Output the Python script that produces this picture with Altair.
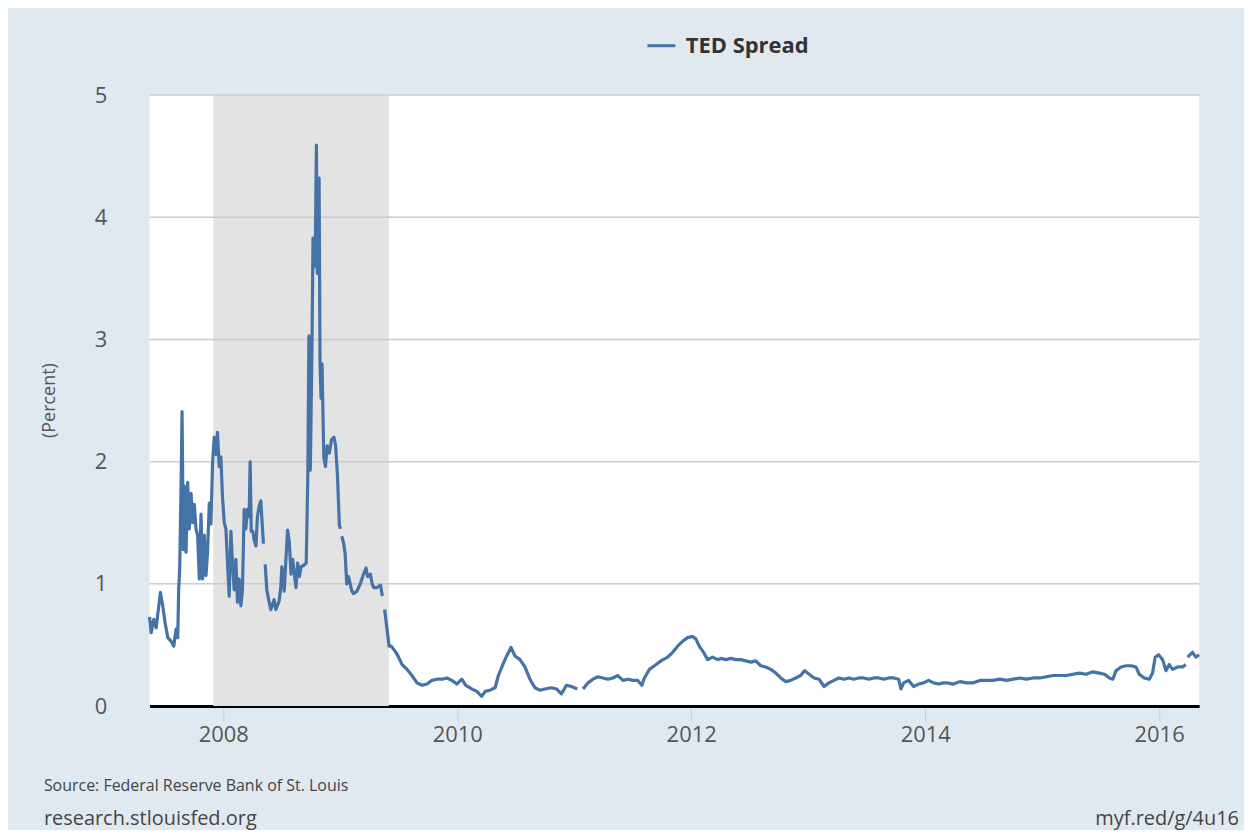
import altair as alt
import pandas as pd
import numpy as np

# ---- data (decimal year, percent); None = gap in series ----
years = [
    2007.370, 2007.384, 2007.406, 2007.427, 2007.440, 2007.463, 2007.483, 2007.503, 2007.526, 2007.555,
    2007.577, 2007.597, 2007.611, 2007.619, 2007.628, 2007.640, 2007.648, 2007.659, 2007.668, 2007.682,
    2007.696, 2007.710, 2007.725, 2007.739, 2007.753, 2007.767, 2007.781, 2007.796, 2007.810, 2007.824,
    2007.838, 2007.853, 2007.866, 2007.881, 2007.895, 2007.909, 2007.923, 2007.938, 2007.951, 2007.966,
    2007.980, 2007.994, 2008.009, 2008.023, 2008.037, 2008.051, 2008.066, 2008.079, 2008.094, 2008.108,
    2008.122, 2008.136, 2008.151, 2008.164, 2008.179, 2008.193, 2008.207, 2008.221, 2008.230, 2008.239,
    2008.253, 2008.264, 2008.279, 2008.292, 2008.307, 2008.321, 2008.335, 2008.343, None,
    2008.358, 2008.372, 2008.392, 2008.406, 2008.434, 2008.449, 2008.477, 2008.491, 2008.500, 2008.512,
    2008.520, 2008.535, 2008.549, 2008.564, 2008.578, 2008.593, 2008.607, 2008.621, 2008.635, 2008.650,
    2008.664, 2008.685, 2008.708, 2008.722, 2008.731, 2008.743, 2008.757, 2008.766, 2008.774, 2008.786,
    2008.795, 2008.803, 2008.818, 2008.826, 2008.835, 2008.843, 2008.858, 2008.872, 2008.887, 2008.905,
    2008.924, 2008.945, 2008.959, 2008.974, 2008.991, 2009.000, None,
    2009.011, 2009.026, 2009.040, 2009.054, 2009.069, 2009.083, 2009.098, 2009.112, 2009.141, 2009.170,
    2009.198, 2009.219, 2009.233, 2009.256, 2009.271, 2009.285, 2009.314, 2009.343, 2009.358, None,
    2009.378, 2009.401, 2009.416, 2009.435, 2009.459, 2009.487, 2009.527, 2009.570, 2009.612, 2009.655,
    2009.698, 2009.740, 2009.783, 2009.825, 2009.868, 2009.911, 2009.953, 2009.996, 2010.038, 2010.072,
    2010.123, 2010.166, 2010.209, 2010.238, 2010.280, 2010.323, 2010.351, 2010.385, 2010.422, 2010.459,
    2010.493, 2010.536, 2010.578, 2010.621, 2010.664, 2010.706, 2010.749, 2010.805, 2010.848, 2010.890,
    2010.933, 2010.975, 2011.026, None,
    2011.075, 2011.118, 2011.160, 2011.203, 2011.245, 2011.288, 2011.330, 2011.373, 2011.416, 2011.458,
    2011.501, 2011.543, 2011.578, 2011.600, 2011.643, 2011.686, 2011.742, 2011.799, 2011.842, 2011.884,
    2011.927, 2011.969, 2012.012, 2012.040, 2012.069, 2012.106, 2012.140, 2012.182, 2012.225, 2012.253,
    2012.296, 2012.338, 2012.381, 2012.423, 2012.466, 2012.509, 2012.551, 2012.594, 2012.636, 2012.679,
    2012.722, 2012.764, 2012.807, 2012.849, 2012.892, 2012.934, 2012.968, 2013.006, 2013.049, 2013.091,
    2013.134, 2013.176, 2013.219, 2013.261, 2013.304, 2013.347, 2013.389, 2013.432, 2013.474, 2013.517,
    2013.560, 2013.602, 2013.645, 2013.687, 2013.730, 2013.772, 2013.792, 2013.815, 2013.858, 2013.900,
    2013.943, 2013.986, 2014.028, 2014.071, 2014.113, 2014.156, 2014.184, 2014.241, 2014.297, 2014.354,
    2014.411, 2014.468, 2014.525, 2014.582, 2014.638, 2014.695, 2014.752, 2014.808, 2014.865, 2014.922,
    2014.979, 2015.036, 2015.093, 2015.149, 2015.206, 2015.263, 2015.319, 2015.376, 2015.433, 2015.490,
    2015.533, 2015.575, 2015.604, 2015.632, 2015.675, 2015.717, 2015.760, 2015.802, 2015.830, 2015.873,
    2015.916, 2015.944, 2015.966, 2015.996, 2016.030, 2016.058, 2016.087, 2016.115, 2016.158, 2016.200,
    2016.228, None,
    2016.243, 2016.285, 2016.313, 2016.341,
]
ted_values = [
    0.73, 0.60, 0.71, 0.64, 0.75, 0.93, 0.82, 0.68, 0.56, 0.53,
    0.49, 0.63, 0.56, 0.95, 1.13, 1.83, 2.41, 1.28, 1.80, 1.26,
    1.83, 1.45, 1.74, 1.50, 1.65, 1.45, 1.40, 1.04, 1.57, 1.04,
    1.40, 1.07, 1.26, 1.66, 1.49, 1.99, 2.20, 2.06, 2.24, 1.96,
    2.04, 1.71, 1.50, 1.45, 1.17, 0.90, 1.43, 1.17, 0.95, 1.20,
    0.85, 1.04, 0.82, 0.95, 1.61, 1.45, 1.61, 1.55, 2.00, 1.43,
    1.43, 1.36, 1.31, 1.55, 1.64, 1.68, 1.45, 1.33, None,
    1.16, 0.95, 0.85, 0.79, 0.87, 0.79, 0.86, 0.97, 1.14, 1.06,
    0.94, 1.20, 1.44, 1.34, 1.08, 1.20, 1.08, 0.97, 1.17, 1.06,
    1.14, 1.15, 1.17, 1.90, 3.03, 1.93, 2.92, 3.83, 3.59, 3.79,
    4.59, 3.54, 4.32, 2.80, 2.52, 2.80, 2.04, 1.96, 2.13, 2.07,
    2.18, 2.20, 2.13, 1.90, 1.48, 1.45, None,
    1.39, 1.34, 1.25, 1.00, 1.06, 1.00, 0.94, 0.92, 0.94, 1.00,
    1.08, 1.13, 1.06, 1.08, 1.00, 0.97, 0.97, 0.99, 0.90, None,
    0.79, 0.61, 0.49, 0.49, 0.46, 0.42, 0.34, 0.30, 0.25, 0.19,
    0.17, 0.18, 0.21, 0.22, 0.22, 0.23, 0.21, 0.18, 0.22, 0.17,
    0.14, 0.12, 0.08, 0.12, 0.13, 0.15, 0.25, 0.33, 0.41, 0.48,
    0.41, 0.38, 0.32, 0.22, 0.15, 0.13, 0.14, 0.15, 0.14, 0.10,
    0.17, 0.16, 0.14, None,
    0.14, 0.19, 0.22, 0.24, 0.23, 0.22, 0.23, 0.25, 0.21, 0.22,
    0.21, 0.21, 0.17, 0.23, 0.30, 0.33, 0.37, 0.40, 0.44, 0.49,
    0.53, 0.56, 0.57, 0.55, 0.49, 0.44, 0.38, 0.40, 0.38, 0.39,
    0.38, 0.39, 0.38, 0.38, 0.37, 0.36, 0.37, 0.33, 0.32, 0.30,
    0.27, 0.23, 0.20, 0.21, 0.23, 0.25, 0.29, 0.26, 0.23, 0.22,
    0.16, 0.19, 0.21, 0.23, 0.22, 0.23, 0.22, 0.23, 0.23, 0.22,
    0.23, 0.23, 0.22, 0.23, 0.23, 0.22, 0.14, 0.19, 0.21, 0.16,
    0.18, 0.19, 0.21, 0.19, 0.18, 0.19, 0.19, 0.18, 0.20, 0.19,
    0.19, 0.21, 0.21, 0.21, 0.22, 0.21, 0.22, 0.23, 0.22, 0.23,
    0.23, 0.24, 0.25, 0.25, 0.25, 0.26, 0.27, 0.26, 0.28, 0.27,
    0.26, 0.23, 0.22, 0.29, 0.32, 0.33, 0.33, 0.32, 0.26, 0.23,
    0.22, 0.27, 0.40, 0.42, 0.38, 0.29, 0.34, 0.30, 0.32, 0.32,
    0.34, None,
    0.40, 0.44, 0.40, 0.42,
]
series_name = "TED Spread"
recession_start = ["2007-12-01"]
recession_end = ["2009-06-01"]
y_ticks = [0, 1, 2, 3, 4, 5]
grid_values = [1, 2, 3, 4, 5]
x_tick_dates = ["2008-01-01", "2010-01-01", "2012-01-01", "2014-01-01", "2016-01-01"]
x_domain = ["2007-05-16", "2016-05-05"]
source_text = "Source: Federal Reserve Bank of St. Louis"
site_text = "research.stlouisfed.org"
link_text = "myf.red/g/4u16"


def to_ts(y):
    yr = int(np.floor(y))
    start = pd.Timestamp(year=yr, month=1, day=1)
    ndays = (pd.Timestamp(year=yr + 1, month=1, day=1) - start).days
    return start + pd.Timedelta(days=(y - yr) * ndays)


rows = []
seg = 0
for yv, v in zip(years, ted_values):
    if yv is None or v is None:
        seg += 1
        continue
    rows.append({"date": to_ts(yv), "value": v, "seg": seg, "series": series_name})
df = pd.DataFrame(rows)

FONT = "Open Sans"
W, H = 1053, 613

x_scale = alt.Scale(domain=x_domain)
y_scale = alt.Scale(domain=[0, 5], nice=False)

rec = alt.Chart(pd.DataFrame({"start": recession_start, "end": recession_end})).mark_rect(
    color="#e3e3e3"
).encode(
    x=alt.X("start:T", scale=x_scale),
    x2="end:T",
)

grid = alt.Chart(pd.DataFrame({"g": grid_values})).mark_rule(
    color="#cccccc", strokeWidth=1.5
).encode(y=alt.Y("g:Q", scale=y_scale))

line = alt.Chart(df).mark_line(strokeWidth=3.2, strokeJoin="round").encode(
    x=alt.X(
        "date:T",
        scale=x_scale,
        axis=alt.Axis(
            title=None,
            values=x_tick_dates,
            format="%Y",
            grid=False,
            domainColor="#000000",
            domainWidth=3,
            tickColor="#bfd0e2",
            tickSize=15,
            tickWidth=1,
            labelPadding=4,
            labelFont=FONT,
            labelFontSize=22,
            labelColor="#555555",
        ),
    ),
    y=alt.Y(
        "value:Q",
        scale=y_scale,
        axis=alt.Axis(
            title="(Percent)",
            values=y_ticks,
            format="d",
            grid=False,
            domain=False,
            ticks=False,
            labelPadding=43,
            labelFont=FONT,
            labelFontSize=22,
            labelColor="#555555",
            titleFont=FONT,
            titleFontSize=18,
            titleFontWeight="normal",
            titleColor="#555555",
            titleX=-100,
            titleY=306,
            titleAngle=270,
            titleAlign="center",
            titleBaseline="middle",
        ),
    ),
    detail="seg:N",
    color=alt.Color(
        "series:N",
        scale=alt.Scale(domain=[series_name], range=["#4572a7"]),
        legend=alt.Legend(
            title=None,
            orient="none",
            legendX=498,
            legendY=-65,
            symbolType="stroke",
            symbolSize=784,
            symbolStrokeWidth=3,
            labelFont=FONT,
            labelFontSize=22,
            labelFontWeight="bold",
            labelColor="#333333",
            labelOffset=9,
            padding=0,
        ),
    ),
)

notes = pd.DataFrame({"t": [source_text, site_text, link_text]})

src = alt.Chart(notes.iloc[[0]]).mark_text(
    align="left", baseline="middle", font=FONT, fontSize=16, color="#444444"
).encode(text="t:N", x=alt.value(-106), y=alt.value(693))
site = alt.Chart(notes.iloc[[1]]).mark_text(
    align="left", baseline="middle", font=FONT, fontSize=20, color="#444444"
).encode(text="t:N", x=alt.value(-106), y=alt.value(726))
link = alt.Chart(notes.iloc[[2]]).mark_text(
    align="right", baseline="middle", font=FONT, fontSize=20, color="#444444"
).encode(text="t:N", x=alt.value(1093), y=alt.value(726))

chart = alt.layer(rec, grid, line, src, site, link).properties(
    width=W,
    height=H,
    background="#e1e9f0",
    padding={"left": 142, "top": 86, "right": 45, "bottom": 123},
    autosize=alt.AutoSizeParams(type="none"),
).configure_view(fill="white", strokeWidth=0)

chart.save("out.html", embed_options={"renderer": "svg", "actions": False})
